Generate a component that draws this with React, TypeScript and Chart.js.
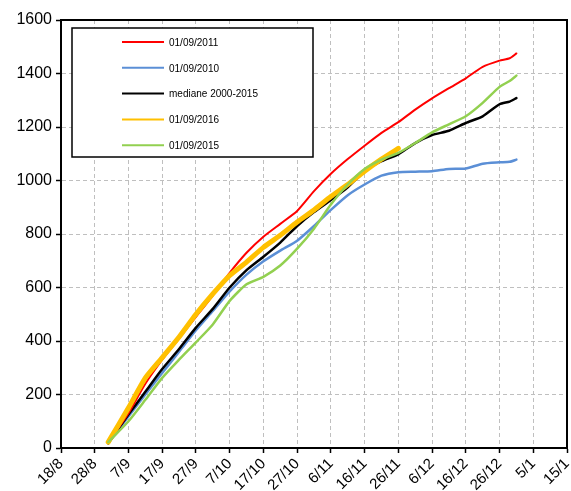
import React, { useEffect, useRef } from 'react';
import { Chart, registerables } from 'chart.js';
Chart.register(...registerables);

// x = days since 18/8
const xTickLabels = ['18/8', '28/8', '7/9', '17/9', '27/9', '7/10', '17/10', '27/10', '6/11', '16/11', '26/11', '6/12', '16/12', '26/12', '5/1', '15/1'];
const days = [14, 20, 25, 30, 35, 40, 45, 50, 55, 60, 65, 70, 75, 80, 85, 90, 95, 100, 105, 110, 115, 120, 125, 130, 133, 135];
const days2016 = [14, 20, 25, 30, 35, 40, 45, 50, 55, 60, 65, 70, 75, 80, 85, 90, 95, 100];

const s2011 = [20, 130, 240, 330, 410, 490, 570, 655, 730, 790, 838, 886, 960, 1025, 1080, 1130, 1178, 1218, 1265, 1307, 1345, 1382, 1425, 1448, 1457, 1475];
const s2010 = [18, 118, 200, 280, 360, 440, 512, 585, 648, 698, 738, 775, 830, 890, 945, 985, 1018, 1031, 1033, 1035, 1043, 1045, 1063, 1068, 1070, 1078];
const sMedian = [18, 125, 210, 295, 370, 450, 520, 600, 665, 715, 768, 830, 882, 927, 975, 1035, 1072, 1098, 1140, 1170, 1186, 1215, 1240, 1285, 1295, 1308];
const s2016 = [22, 150, 262, 338, 415, 500, 576, 645, 695, 750, 795, 845, 890, 940, 985, 1035, 1080, 1120];
const s2015 = [22, 100, 180, 262, 330, 395, 462, 550, 612, 640, 682, 745, 820, 910, 985, 1043, 1078, 1103, 1140, 1180, 1210, 1240, 1290, 1350, 1372, 1392];

const seriesLabels = ['01/09/2011', '01/09/2010', 'mediane 2000-2015', '01/09/2016', '01/09/2015'];
const seriesColors = ['#ff0000', '#5b8fd6', '#000000', '#ffc000', '#92d050'];
const seriesWidths = [2, 2.5, 2.5, 5, 2.5];
const seriesOrder = [3, 5, 4, 2, 1];

const FONT = '"Liberation Sans", Arial, sans-serif';

const frameAndLegend = {
  id: 'frameAndLegend',
  afterDatasetsDraw(chart: any) {
    const { ctx, chartArea } = chart;
    ctx.save();
    // top & right frame
    ctx.strokeStyle = '#000';
    ctx.lineWidth = 2;
    ctx.beginPath();
    ctx.moveTo(chartArea.left, chartArea.top);
    ctx.lineTo(chartArea.right, chartArea.top);
    ctx.lineTo(chartArea.right, chartArea.bottom);
    ctx.stroke();

    // legend box
    const bx = chartArea.left + 11;
    const by = chartArea.top + 8;
    const bw = 241;
    const bh = 129;
    ctx.fillStyle = '#fff';
    ctx.fillRect(bx, by, bw, bh);
    ctx.lineWidth = 1.5;
    ctx.strokeStyle = '#000';
    ctx.strokeRect(bx, by, bw, bh);
    ctx.font = '10px ' + FONT;
    ctx.textBaseline = 'middle';
    ctx.textAlign = 'left';
    chart.data.datasets.forEach((ds: any, i: number) => {
      const y = by + 14 + i * 25.8;
      ctx.strokeStyle = ds.borderColor;
      ctx.lineWidth = 2;
      ctx.beginPath();
      ctx.moveTo(bx + 50, y);
      ctx.lineTo(bx + 92, y);
      ctx.stroke();
      ctx.fillStyle = '#000';
      ctx.fillText(ds.label, bx + 97, y + 1);
    });
    ctx.restore();
  },
};

export default function App() {
  const ref = useRef<HTMLCanvasElement>(null);
  useEffect(() => {
    if (!ref.current) return;
    const seriesValues = [s2011, s2010, sMedian, s2016, s2015];
    const seriesDays = [days, days, days, days2016, days];
    const chart = new Chart(ref.current, {
      type: 'line',
      data: {
        datasets: seriesValues.map((vals, i) => ({
          label: seriesLabels[i],
          data: vals.map((v, j) => ({ x: seriesDays[i][j], y: v })),
          borderColor: seriesColors[i],
          backgroundColor: seriesColors[i],
          borderWidth: seriesWidths[i],
          pointRadius: 0,
          tension: 0.2,
          order: seriesOrder[i],
          borderCapStyle: 'round',
          borderJoinStyle: 'round',
        })),
      },
      options: {
        responsive: false,
        animation: false,
        layout: { padding: { top: 20, right: 4, left: 0, bottom: 0 } },
        plugins: { legend: { display: false }, tooltip: { enabled: false } },
        scales: {
          x: {
            type: 'linear',
            min: 0,
            max: 150,
            afterBuildTicks: (scale: any) => {
              scale.ticks = xTickLabels.map((_, i) => ({ value: i * 10 }));
            },
            afterFit: (scale: any) => {
              scale.height = 43;
              scale.paddingLeft = 0;
              scale.paddingRight = 0;
            },
            ticks: {
              autoSkip: false,
              minRotation: 45,
              maxRotation: 45,
              padding: 2,
              color: '#000',
              font: { family: FONT, size: 15 },
              callback: (v: any) => xTickLabels[Math.round(v / 10)],
            },
            grid: {
              color: '#bfbfbf',
              lineWidth: 1,
              tickColor: '#000',
              tickLength: 5,
              tickBorderDash: [],
              tickWidth: 1.5,
            },
            border: { display: true, color: '#000', width: 2, dash: [4, 3] },
          },
          y: {
            min: 0,
            max: 1600,
            afterFit: (scale: any) => {
              scale.width = 61;
              scale.paddingTop = 0;
              scale.paddingBottom = 0;
            },
            ticks: {
              stepSize: 200,
              padding: 4,
              color: '#000',
              font: { family: FONT, size: 16 },
              callback: (v: any) => String(v),
            },
            grid: {
              color: '#bfbfbf',
              lineWidth: 1,
              tickColor: '#000',
              tickLength: 5,
              tickBorderDash: [],
              tickWidth: 1.5,
            },
            border: { display: true, color: '#000', width: 2, dash: [4, 3] },
          },
        },
      } as any,
      plugins: [frameAndLegend],
    });
    return () => chart.destroy();
  }, []);
  return (
    <div style={{ position: 'fixed', left: 0, top: 0, width: 571, height: 491, background: '#fff' }}>
      <canvas ref={ref} width={571} height={491} />
    </div>
  );
}
